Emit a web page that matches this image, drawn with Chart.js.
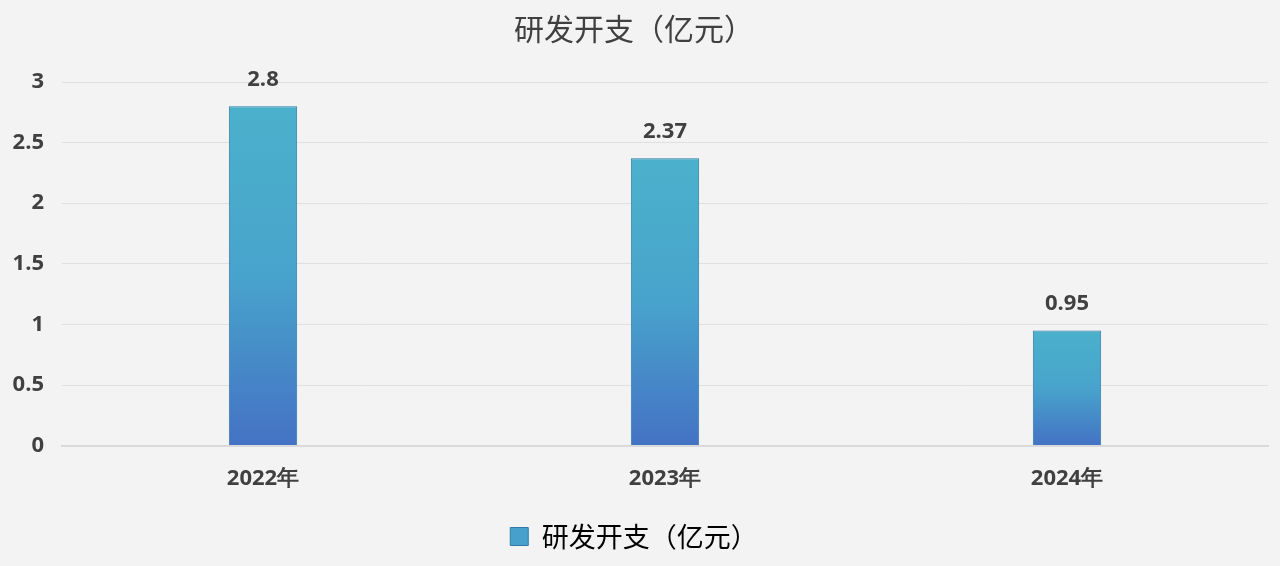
<!DOCTYPE html>
<html>
<head>
<meta charset="utf-8">
<script src="https://cdn.jsdelivr.net/npm/chart.js@4.4.1/dist/chart.umd.min.js"></script>
<style>
  html, body { margin: 0; padding: 0; background: #f3f3f3; }
  #wrap { width: 1280px; height: 566px; }
</style>
</head>
<body>
<div id="wrap"><canvas id="chart"></canvas></div>
<script>
const categories = ["2022年", "2023年", "2024年"];
const rdSpend = [2.8, 2.37, 0.95];
const seriesName = "研发开支（亿元）";
const yTicks = [0, 0.5, 1, 1.5, 2, 2.5, 3];

const cjk = "'Noto Sans CJK SC', 'Noto Sans', sans-serif";
const latin = "'Open Sans', 'Noto Sans', sans-serif";

// vertical gradient for each bar, from its top down to the axis
function barFill(ctx) {
  const chart = ctx.chart;
  const area = chart.chartArea;
  const yScale = chart.scales.y;
  if (!area || !yScale || ctx.dataIndex === undefined) return "#48a3cc";
  const top = yScale.getPixelForValue(rdSpend[ctx.dataIndex]);
  if (!isFinite(top) || !isFinite(area.bottom)) return "#48a3cc";
  const g = chart.ctx.createLinearGradient(0, top, 0, area.bottom);
  g.addColorStop(0, "#4bb1cb");
  g.addColorStop(0.5, "#48a3cc");
  g.addColorStop(1, "#4472c4");
  return g;
}

// draw value labels above bars
const valueLabels = {
  id: "valueLabels",
  afterDatasetsDraw(chart) {
    const c = chart.ctx;
    const meta = chart.getDatasetMeta(0);
    c.save();
    c.font = "bold 22px " + latin;
    c.fillStyle = "#404040";
    c.textAlign = "center";
    c.textBaseline = "bottom";
    meta.data.forEach((bar, i) => {
      c.fillText(String(rdSpend[i]), bar.x, bar.y - 16);
    });
    c.restore();
  }
};

new Chart(document.getElementById("chart"), {
  type: "bar",
  data: {
    labels: categories,
    datasets: [{
      label: seriesName,
      data: rdSpend,
      backgroundColor: barFill,
      borderColor: "#3179a8",
      borderWidth: 1,
      categoryPercentage: 1,
      barPercentage: 0.17
    }]
  },
  options: {
    responsive: true,
    maintainAspectRatio: false,
    animation: false,
    layout: { padding: { left: 0, right: 12, top: 0, bottom: 6 } },
    plugins: {
      title: {
        display: true,
        text: seriesName,
        color: "#404040",
        font: { family: cjk, size: 30, weight: "normal", lineHeight: 1.2 },
        padding: { top: 11, bottom: 35 }
      },
      legend: {
        position: "bottom",
        labels: {
          color: "#404040",
          font: { family: cjk, size: 27 },
          boxWidth: 18,
          boxHeight: 18,
          padding: 10,
          generateLabels(chart) {
            return [{
              text: seriesName,
              fillStyle: "#479fcb",
              strokeStyle: "#3179a8",
              lineWidth: 1,
              datasetIndex: 0
            }];
          }
        }
      },
      tooltip: { enabled: false }
    },
    scales: {
      x: {
        grid: { display: false },
        border: { color: "#d9d9d9", width: 2 },
        afterFit(axis) { axis.height += 9; },
        ticks: {
          color: "#404040",
          font: { family: latin, size: 22, weight: "bold" },
          padding: 12
        }
      },
      y: {
        min: 0,
        max: 3,
        afterBuildTicks(axis) { axis.ticks = yTicks.map(v => ({ value: v })); },
        afterFit(axis) { axis.width = 62; },
        grid: { color: "#e0e0e0", lineWidth: 1, drawTicks: false },
        border: { display: false },
        ticks: {
          color: "#404040",
          font: { family: latin, size: 22, weight: "bold" },
          padding: 18,
          callback: v => String(v)
        }
      }
    }
  },
  plugins: [valueLabels]
});
</script>
</body>
</html>
